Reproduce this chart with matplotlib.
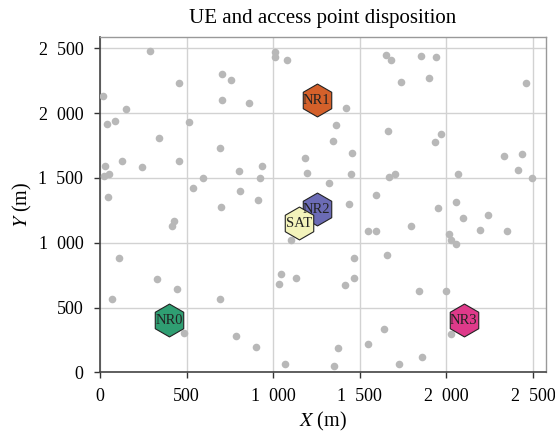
import matplotlib
matplotlib.use("Agg")
import matplotlib.pyplot as plt

plt.rcParams['font.family'] = ['Liberation Serif', 'DejaVu Serif']
plt.rcParams['mathtext.fontset'] = 'stix'

ue_x = [290, 1010, 1010, 1077, 702, 754, 458, 19, 706, 860, 150, 87, 38, 515, 339, 690,
        1183, 125, 454, 27, 244, 935, 54, 23, 800, 1193, 594, 925, 539, 810, 46, 910, 696,
        1650, 1679, 1852, 1941, 1737, 1898, 2458, 1418, 1360, 1664, 1343, 1968, 1935, 1454,
        2333, 2437, 2412, 2495, 1448, 1668, 1706, 2066, 1320, 1595, 1439, 2058, 1952,
        429, 415, 1104, 110, 329, 444, 1044, 1035, 1131, 67, 690, 487, 783, 898, 1067,
        2093, 2241, 1794, 1548, 1593, 2193, 2350, 2014, 2024, 2056, 1464, 1658, 1464, 1414,
        1843, 1998, 1639, 2027, 1548, 1372, 1860, 1725, 1349]
ue_y = [2481, 2469, 2435, 2409, 2301, 2255, 2229, 2133, 2100, 2082, 2035, 1940, 1914, 1935, 1808, 1731,
        1653, 1628, 1628, 1591, 1581, 1591, 1527, 1514, 1550, 1535, 1496, 1496, 1421, 1396, 1351, 1331, 1279,
        2450, 2409, 2440, 2435, 2237, 2268, 2229, 2040, 1909, 1862, 1785, 1837, 1775, 1690,
        1667, 1682, 1563, 1496, 1527, 1506, 1527, 1527, 1463, 1372, 1300, 1316, 1269,
        1169, 1132, 1019, 885, 717, 642, 756, 681, 725, 565, 565, 302, 281, 198, 64,
        1192, 1217, 1127, 1088, 1088, 1101, 1088, 1070, 1024, 991, 885, 905, 725, 673,
        624, 624, 338, 294, 219, 191, 118, 64, 51]

ap_names = ['NR0', 'NR1', 'NR2', 'NR3', 'SAT']
ap_x = [400, 1250, 1250, 2100, 1150]
ap_y = [400, 2100, 1260, 400, 1150]
ap_colors = ['#2f9e72', '#d4602a', '#6b6bb5', '#de3a8a', '#f3f3bb']

x_ticks = [0, 500, 1000, 1500, 2000, 2500]
y_ticks = [0, 500, 1000, 1500, 2000, 2500]
tick_labels = ['0', '500', '1\u2007000', '1\u2007500', '2\u2007000', '2\u2007500']

fig = plt.figure(figsize=(5.55, 4.36), dpi=100)
ax = fig.add_axes([100/555, (436-372.3)/436, (546-100)/555, (372.3-36.7)/436])

ax.scatter(ue_x, ue_y, s=30, color='#b8b8b8', zorder=3, linewidths=0)
for n, x, y, c in zip(ap_names, ap_x, ap_y, ap_colors):
    ax.scatter([x], [y], s=560, marker='h', color=c, edgecolors='#222222',
               linewidths=0.8, zorder=4)
    ax.text(x, y, n, ha='center', va='center', fontsize=10.5, color='#222222', zorder=5)

ax.set_xlim(0, 2575)
ax.set_ylim(0, 2590)
ax.set_xticks(x_ticks)
ax.set_xticklabels(tick_labels)
ax.set_yticks(y_ticks)
ax.set_yticklabels(tick_labels)
ax.grid(True, color='#d2d2d2', linewidth=1.0, zorder=0)
ax.set_axisbelow(True)
ax.tick_params(direction='out', length=4, width=1, color='#333333', labelsize=13)
ax.tick_params(axis='x', pad=7)
ax.tick_params(axis='y', pad=8)
for s in ['left', 'bottom']:
    ax.spines[s].set_color('#444444')
    ax.spines[s].set_linewidth(1.2)
for s in ['top', 'right']:
    ax.spines[s].set_color('#999999')
    ax.spines[s].set_linewidth(1.0)

ax.set_xlabel(r'$X$ (m)', fontsize=14.5, labelpad=4)
ax.set_ylabel(r'$Y$ (m)', fontsize=14.5, labelpad=3)
ax.set_title('UE and access point disposition', fontsize=15, pad=10)

fig.savefig('out.png', dpi=100)
